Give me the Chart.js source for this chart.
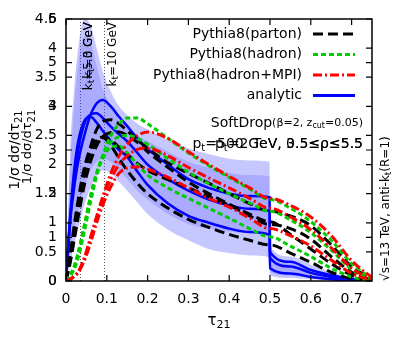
<!DOCTYPE html>
<html>
<head>
<meta charset="utf-8">
<script src="https://cdn.jsdelivr.net/npm/chart.js@4"></script>
<style>
body { margin: 0; background: #fff; overflow: hidden; }
#wrap { width: 399px; height: 349px; }
</style>
</head>
<body>
<div id="wrap"><canvas id="chart"></canvas></div>
<script>
// tau21 grid (0.499 / 0.5 pair gives the analytic step)
var tau = [0, 0.01, 0.02, 0.03, 0.045, 0.06, 0.075, 0.09, 0.11, 0.13, 0.15, 0.175, 0.2, 0.25, 0.3, 0.35, 0.4, 0.45, 0.499, 0.5, 0.55, 0.6, 0.65, 0.7, 0.75];

var analytic1 = [0, 1.0, 1.6, 2.05, 2.5, 2.85, 3.05, 3.11, 3.0, 2.82, 2.66, 2.45, 2.27, 2.0, 1.75, 1.6, 1.5, 1.46, 1.44, 0.5, 0.33, 0.19, 0.1, 0.04, 0];
var analytic2 = [0, 1.05, 1.75, 2.25, 2.7, 2.86, 2.88, 2.8, 2.65, 2.52, 2.4, 2.2, 2.0, 1.75, 1.55, 1.4, 1.3, 1.24, 1.2, 0.4, 0.25, 0.14, 0.07, 0.02, 0];
var analytic3 = [0, 1.1, 1.9, 2.4, 2.75, 2.82, 2.72, 2.58, 2.4, 2.25, 2.13, 1.88, 1.65, 1.33, 1.12, 1.0, 0.9, 0.84, 0.79, 0.22, 0.13, 0.07, 0.03, 0.01, 0];

var bandOuterHi = [0, 2.2, 3.3, 4.0, 4.5, 4.4, 4.0, 3.6, 3.25, 3.0, 2.85, 2.7, 2.6, 2.42, 2.28, 2.18, 2.1, 2.07, 2.05, 0.6, 0.42, 0.28, 0.15, 0.06, 0];
var bandOuterLo = [0, 0.3, 0.6, 0.9, 1.3, 1.6, 1.8, 1.9, 1.85, 1.7, 1.55, 1.35, 1.15, 0.88, 0.7, 0.55, 0.48, 0.44, 0.41, 0.1, 0.05, 0.03, 0.01, 0, 0];
var bandInnerHi = [0, 1.9, 3.0, 3.7, 4.2, 4.1, 3.7, 3.3, 3.0, 2.78, 2.63, 2.5, 2.4, 2.22, 2.05, 1.95, 1.86, 1.82, 1.8, 0.45, 0.32, 0.2, 0.1, 0.04, 0];
var bandInnerLo = [0, 0.5, 0.9, 1.2, 1.6, 1.9, 2.05, 2.1, 2.05, 1.9, 1.75, 1.55, 1.4, 1.15, 0.98, 0.9, 0.85, 0.82, 0.8, 0.16, 0.09, 0.05, 0.02, 0.01, 0];

var parton1 = [0, 0.35, 0.8, 1.25, 1.85, 2.3, 2.6, 2.74, 2.77, 2.7, 2.58, 2.42, 2.28, 2.03, 1.85, 1.68, 1.5, 1.33, 1.2, 1.2, 1.12, 0.95, 0.62, 0.25, 0.03];
var parton2 = [0, 0.45, 0.95, 1.4, 1.95, 2.28, 2.43, 2.47, 2.42, 2.3, 2.18, 2.02, 1.9, 1.74, 1.6, 1.45, 1.3, 1.12, 0.97, 0.97, 0.9, 0.72, 0.42, 0.15, 0.01];
var parton3 = [0, 0.4, 0.85, 1.3, 1.85, 2.2, 2.4, 2.46, 2.33, 2.1, 1.9, 1.68, 1.5, 1.25, 1.06, 0.92, 0.8, 0.7, 0.62, 0.62, 0.48, 0.32, 0.15, 0.04, 0];
var parton4 = [0, 0.3, 0.7, 1.1, 1.65, 2.05, 2.32, 2.48, 2.55, 2.56, 2.5, 2.38, 2.22, 1.95, 1.7, 1.5, 1.32, 1.15, 1.02, 1.02, 0.8, 0.55, 0.3, 0.1, 0];

var hadron1 = [0, 0.08, 0.2, 0.4, 0.85, 1.35, 1.8, 2.15, 2.5, 2.7, 2.8, 2.8, 2.7, 2.45, 2.2, 1.98, 1.78, 1.58, 1.4, 1.4, 1.25, 1.02, 0.7, 0.3, 0.04];
var hadron2 = [0, 0.1, 0.25, 0.48, 0.95, 1.45, 1.85, 2.15, 2.38, 2.48, 2.5, 2.45, 2.35, 2.1, 1.87, 1.67, 1.5, 1.34, 1.2, 1.2, 1.05, 0.83, 0.53, 0.2, 0.02];
var hadron3 = [0, 0.1, 0.25, 0.5, 0.95, 1.45, 1.85, 2.1, 2.3, 2.32, 2.2, 2.0, 1.82, 1.6, 1.42, 1.25, 1.08, 0.9, 0.76, 0.76, 0.6, 0.42, 0.22, 0.07, 0];

var mpi1 = [0, 0.03, 0.08, 0.15, 0.38, 0.72, 1.1, 1.45, 1.85, 2.15, 2.35, 2.5, 2.56, 2.45, 2.22, 2.0, 1.8, 1.6, 1.42, 1.42, 1.3, 1.1, 0.78, 0.35, 0.06];
var mpi2 = [0, 0.03, 0.08, 0.15, 0.35, 0.65, 1.0, 1.3, 1.62, 1.85, 1.94, 1.96, 1.92, 1.78, 1.6, 1.42, 1.27, 1.08, 0.9, 0.9, 0.78, 0.6, 0.36, 0.13, 0.01];
var mpi3 = [0, 0.03, 0.08, 0.16, 0.4, 0.75, 1.1, 1.4, 1.75, 2.0, 2.15, 2.26, 2.28, 2.15, 1.95, 1.77, 1.6, 1.42, 1.25, 1.25, 1.1, 0.88, 0.57, 0.22, 0.02];

var xTicks = [0, 0.1, 0.2, 0.3, 0.4, 0.5, 0.6, 0.7];
var yTicks2 = [0, 1, 2, 3, 4, 5, 6];   // second overlaid frame, 0..6
var ktLines = [0.034, 0.093];

function pts(vals) {
    return tau.map(function (t, i) { return { x: t, y: vals[i] }; });
}

var BLUE = '#0000ff', BLACK = '#000000', GREEN = '#00cc00', RED = '#ff0000';
var DASH_PARTON = [10, 5], DASH_HADRON = [5, 3], DASH_MPI = [9, 3, 2, 3];

function line(vals, color, dash, width) {
    return {
        data: pts(vals), borderColor: color, borderDash: dash, borderWidth: width,
        pointRadius: 0, fill: false, cubicInterpolationMode: 'monotone', order: 1
    };
}

function band(vals, fillTo, color) {
    return {
        data: pts(vals), borderWidth: 0, borderColor: 'rgba(0,0,0,0)', pointRadius: 0,
        backgroundColor: color, fill: fillTo, cubicInterpolationMode: 'monotone', order: 20
    };
}

var datasets = [
    band(bandOuterHi, '+1', 'rgba(70,70,255,0.3)'),
    band(bandOuterLo, false, 'rgba(0,0,0,0)'),
    band(bandInnerHi, '+1', 'rgba(70,70,255,0.22)'),
    band(bandInnerLo, false, 'rgba(0,0,0,0)'),
    line(mpi1, RED, DASH_MPI, 3),
    line(mpi2, RED, DASH_MPI, 3),
    line(mpi3, RED, DASH_MPI, 3),
    line(hadron1, GREEN, DASH_HADRON, 3),
    line(hadron2, GREEN, DASH_HADRON, 3),
    line(hadron3, GREEN, DASH_HADRON, 3),
    line(parton1, BLACK, DASH_PARTON, 3),
    line(parton2, BLACK, DASH_PARTON, 3),
    line(parton3, BLACK, DASH_PARTON, 3),
    line(parton4, BLACK, DASH_PARTON, 3),
    line(analytic1, BLUE, [], 2.5),
    line(analytic2, BLUE, [], 2.5),
    line(analytic3, BLUE, [], 2.5)
];

var FONT = 'DejaVu Sans';

// draw pieces [text, size, dy] one after another
function rich(ctx, parts, x, y, align) {
    var w = 0;
    parts.forEach(function (p) { ctx.font = p[1] + 'px ' + FONT; w += ctx.measureText(p[0]).width; });
    var cx = align === 'right' ? x - w : (align === 'center' ? x - w / 2 : x);
    ctx.textAlign = 'left';
    ctx.textBaseline = 'middle';
    parts.forEach(function (p) {
        ctx.font = p[1] + 'px ' + FONT;
        ctx.fillText(p[0], cx, y + (p[2] || 0));
        cx += ctx.measureText(p[0]).width;
    });
}

var decor = {
    id: 'decor',
    beforeDatasetsDraw: function (chart) {
        var ctx = chart.ctx, a = chart.chartArea, xs = chart.scales.x;
        ctx.save();
        ctx.strokeStyle = '#555';
        ctx.lineWidth = 1;
        ctx.setLineDash([1, 2]);
        ktLines.forEach(function (k) {
            var px = Math.round(xs.getPixelForValue(k)) + 0.5;
            ctx.beginPath(); ctx.moveTo(px, a.bottom); ctx.lineTo(px, a.top); ctx.stroke();
        });
        ctx.restore();
    },
    afterDraw: function (chart) {
        var ctx = chart.ctx, a = chart.chartArea, xs = chart.scales.x, ys = chart.scales.y;
        ctx.save();
        ctx.fillStyle = '#000';
        ctx.strokeStyle = '#000';
        ctx.setLineDash([]);

        // kt labels
        ctx.save();
        ctx.translate(xs.getPixelForValue(ktLines[1]) + 9, a.top + 3);
        ctx.rotate(-Math.PI / 2);
        rich(ctx, [['k', 12], ['t', 9, 3], ['=10 GeV', 12]], 0, 0, 'right');
        ctx.restore();
        ctx.save();
        ctx.translate(xs.getPixelForValue(ktLines[0]) + 9, a.top + 3);
        ctx.rotate(-Math.PI / 2);
        rich(ctx, [['k', 12], ['t', 9, 3], ['=5.0 GeV', 12]], 0, 0, 'right');
        rich(ctx, [['k', 12], ['t', 9, 3], ['=3 GeV', 12]], 0, 0, 'right');
        ctx.restore();

        // frame and inward ticks
        ctx.lineWidth = 1.5;
        ctx.strokeRect(a.left, a.top, a.right - a.left, a.bottom - a.top);
        ctx.lineWidth = 1.2;
        ctx.beginPath();
        xTicks.forEach(function (t) {
            var px = xs.getPixelForValue(t);
            ctx.moveTo(px, a.bottom); ctx.lineTo(px, a.bottom - 6);
            ctx.moveTo(px, a.top); ctx.lineTo(px, a.top + 6);
        });
        var yAll = [];
        for (var v = 0; v <= 4.5; v += 0.5) yAll.push(ys.getPixelForValue(v));
        yTicks2.forEach(function (t) { yAll.push(ys.getPixelForValue(t * 4.5 / 6)); });
        yAll.forEach(function (py) {
            ctx.moveTo(a.left, py); ctx.lineTo(a.left + 6, py);
            ctx.moveTo(a.right, py); ctx.lineTo(a.right - 6, py);
        });
        ctx.stroke();

        // second frame's y labels
        ctx.font = '14px ' + FONT;
        ctx.textAlign = 'right';
        ctx.textBaseline = 'middle';
        yTicks2.forEach(function (t) {
            ctx.fillText(String(t), a.left - 9, ys.getPixelForValue(t * 4.5 / 6));
        });

        // axis titles
        ctx.save();
        ctx.translate(15, 150);
        ctx.rotate(-Math.PI / 2);
        rich(ctx, [['1/σ dσ/dτ', 14], ['21', 10, 4]], 0, 0, 'center');
        ctx.restore();
        ctx.save();
        ctx.translate(28, 147);
        ctx.rotate(-Math.PI / 2);
        rich(ctx, [['1/σ dσ/dτ', 13], ['21', 10, 4]], 0, 0, 'center');
        ctx.restore();
        rich(ctx, [['τ', 15], ['21', 11, 4]], (a.left + a.right) / 2, 321, 'center');

        // legend
        var leg = [
            ['Pythia8(parton)', BLACK, DASH_PARTON, 3],
            ['Pythia8(hadron)', GREEN, DASH_HADRON, 3],
            ['Pythia8(hadron+MPI)', RED, DASH_MPI, 3],
            ['analytic', BLUE, [], 3]
        ];
        leg.forEach(function (l, i) {
            var yy = 34 + i * 20.5;
            ctx.fillStyle = '#000';
            rich(ctx, [[l[0], 14]], 302, yy, 'right');
            ctx.strokeStyle = l[1];
            ctx.lineWidth = l[3];
            ctx.setLineDash(l[2]);
            ctx.beginPath(); ctx.moveTo(313, yy); ctx.lineTo(355, yy); ctx.stroke();
        });
        ctx.setLineDash([]);
        ctx.fillStyle = '#000';

        rich(ctx, [['SoftDrop', 14], ['(β=2, z', 11], ['cut', 8, 3], ['=0.05)', 11]], 363, 123, 'right');
        rich(ctx, [['p', 14], ['t', 10, 4], ['=500 GeV, 0.5≤ρ≤5.5', 14]], 363, 144, 'right');
        rich(ctx, [['p', 14], ['t', 10, 4], ['=2 TeV, 3.5≤ρ≤5.5', 14]], 363, 144, 'right');

        ctx.save();
        ctx.translate(386, a.bottom);
        ctx.rotate(-Math.PI / 2);
        rich(ctx, [['√s=13 TeV, anti-k', 12], ['t', 9, 3], ['(R=1)', 12]], 0, 0, 'left');
        ctx.restore();
        ctx.restore();
    }
};

Chart.defaults.font.family = FONT;
Chart.defaults.font.size = 14;
Chart.defaults.color = '#000';

var ctx = document.getElementById('chart').getContext('2d');
var chart = new Chart(ctx, {
    type: 'line',
    data: { datasets: datasets },
    options: {
        responsive: true,
        maintainAspectRatio: false,
        animation: false,
        layout: { padding: { top: 19, right: 27, left: 0, bottom: 0 } },
        plugins: { legend: { display: false }, tooltip: { enabled: false } },
        scales: {
            x: {
                type: 'linear', min: 0, max: 0.75,
                afterFit: function (s) { s.height = 68; },
                afterBuildTicks: function (s) { s.ticks = xTicks.map(function (v) { return { value: v }; }); },
                grid: { display: false, drawTicks: false },
                border: { display: false },
                ticks: { padding: 10, maxRotation: 0, font: { size: 14 } }
            },
            y: {
                type: 'linear', min: 0, max: 4.5,
                afterFit: function (s) { s.width = 66; },
                grid: { display: false, drawTicks: false },
                border: { display: false },
                ticks: {
                    stepSize: 0.5, padding: 9, font: { size: 14 },
                    callback: function (v) { return String(v); }
                }
            }
        }
    },
    plugins: [decor]
});
</script>
</body>
</html>
